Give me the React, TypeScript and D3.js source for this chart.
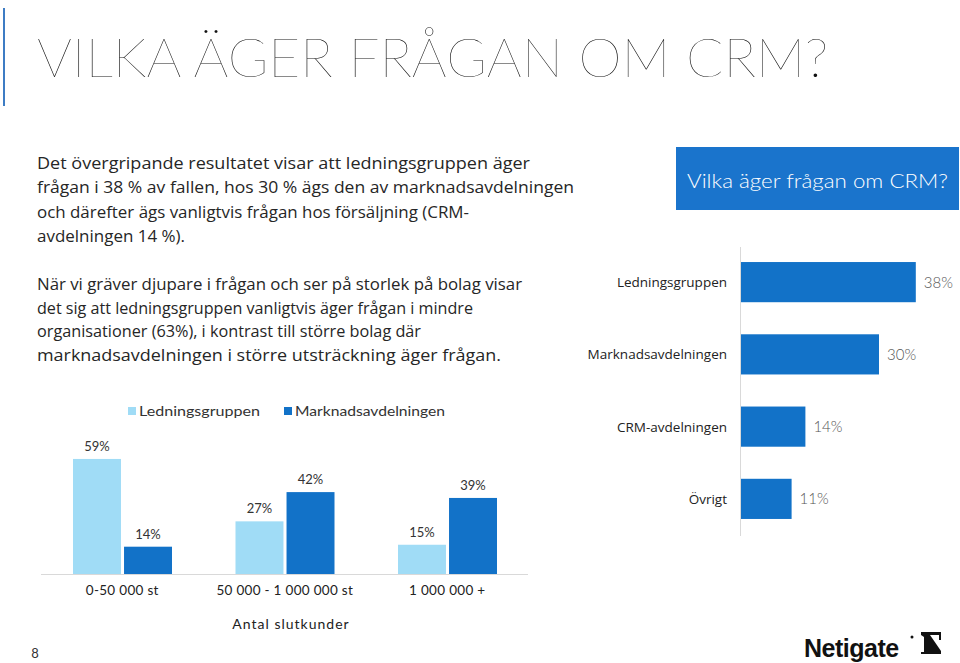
import React from "react";
import * as d3 from "d3";

const hCategories = ["Ledningsgruppen", "Marknadsavdelningen", "CRM-avdelningen", "Övrigt"];
const hValues = [38, 30, 14, 11];

const groups = ["0-50 000 st", "50 000 - 1 000 000 st", "1 000 000 +"];
const seriesNames = ["Ledningsgruppen", "Marknadsavdelningen"];
const ledningValues = [59, 27, 15];
const marknadValues = [14, 42, 39];

const titleText = "VILKA ÄGER FRÅGAN OM CRM?";
const para1 = [
  "Det övergripande resultatet visar att ledningsgruppen äger",
  "frågan i 38 % av fallen, hos 30 % ägs den av marknadsavdelningen",
  "och därefter ägs vanligtvis frågan hos försäljning (CRM-",
  "avdelningen 14 %).",
];
const para1Widths = [493, 537, 432, 148];
const para2 = [
  "När vi gräver djupare i frågan och ser på storlek på bolag visar",
  "det sig att ledningsgruppen vanligtvis äger frågan i mindre",
  "organisationer (63%), i kontrast till större bolag där",
  "marknadsavdelningen i större utsträckning äger frågan.",
];
const para2Widths = [485, 436, 384, 464];

const LIGHT = "#a0dcf6";
const DARK = "#1272c8";
const BOX = "#1a74cc";
const BODY_FONT = "'Open Sans', 'Noto Sans', sans-serif";
const GEO_FONT = "Lato, 'Noto Sans', sans-serif";

export default function App() {
  // horizontal bar chart
  const hx = d3.scaleLinear().domain([0, 100]).range([0, 460]);
  const hy = d3
    .scaleBand<string>()
    .domain(hCategories)
    .range([246, 535])
    .paddingInner(0.444)
    .paddingOuter(0.222);
  const axisX = 741;

  // grouped column chart
  const x0 = d3.scaleBand<string>().domain(groups).range([41, 528.5]);
  const x1 = d3.scaleBand<string>().domain(seriesNames).range([32, 131]).paddingInner(0.06);
  const y = d3.scaleLinear().domain([0, 100]).range([574, 379]);
  const colData = groups.map((g, i) => ({ g, vals: [ledningValues[i], marknadValues[i]] }));
  const colors = [LIGHT, DARK];
  const legendWidths = [121, 150];
  const legendX = [128, 284];

  return (
    <svg
      width={960}
      height={663}
      style={{ position: "absolute", left: 0, top: 0, background: "#fff" }}
    >
      <rect width={960} height={663} fill="#fff" />
      <line x1={4} x2={4} y1={8} y2={106} stroke="#3d7cc4" strokeWidth={2} />
      <text
        x={37}
        y={77}
        fontFamily={GEO_FONT}
        fontWeight={100}
        fontSize={54}
        fill="#111"
        textLength={791}
        lengthAdjust="spacingAndGlyphs"
      >
        {titleText}
      </text>

      {para1.map((t, i) => (
        <text
          key={"p1" + i}
          x={37}
          y={169 + i * 24.3}
          fontFamily={BODY_FONT}
          fontSize={16.5}
          fill="#262626"
          textLength={para1Widths[i]}
          lengthAdjust="spacingAndGlyphs"
        >
          {t}
        </text>
      ))}
      {para2.map((t, i) => (
        <text
          key={"p2" + i}
          x={37}
          y={290 + i * 23.5}
          fontFamily={BODY_FONT}
          fontSize={16}
          fill="#262626"
          textLength={para2Widths[i]}
          lengthAdjust="spacingAndGlyphs"
        >
          {t}
        </text>
      ))}

      {/* header box */}
      <rect x={676} y={147} width={283} height={63} fill={BOX} />
      <text
        x={687}
        y={188}
        fontFamily={GEO_FONT}
        fontWeight={300}
        fontSize={19}
        fill="#fff"
        textLength={261}
        lengthAdjust="spacingAndGlyphs"
      >
        Vilka äger frågan om CRM?
      </text>

      {/* horizontal bars */}
      <line x1={axisX - 0.5} x2={axisX - 0.5} y1={247} y2={536} stroke="#d9d9d9" strokeWidth={1} />
      {hCategories.map((c, i) => {
        const yy = hy(c)!;
        const w = hx(hValues[i]);
        const cy = yy + hy.bandwidth() / 2;
        return (
          <g key={c}>
            <rect x={axisX} y={yy} width={w} height={hy.bandwidth()} fill={DARK} />
            <text
              x={727}
              y={cy + 5}
              textAnchor="end"
              fontFamily={BODY_FONT}
              fontSize={13.5}
              fill="#222"
            >
              {c}
            </text>
            <text
              x={axisX + w + 8}
              y={cy + 5.5}
              fontFamily={GEO_FONT}
              fontWeight={300}
              fontSize={15}
              fill="#555"
            >
              {hValues[i]}%
            </text>
          </g>
        );
      })}

      {/* legend */}
      {seriesNames.map((s, j) => (
        <g key={s}>
          <rect x={legendX[j]} y={407} width={8} height={8} fill={colors[j]} />
          <text
            x={legendX[j] + 11}
            y={416}
            fontFamily={GEO_FONT}
            fontSize={13.5}
            fill="#333"
            textLength={legendWidths[j]}
            lengthAdjust="spacingAndGlyphs"
          >
            {s}
          </text>
        </g>
      ))}

      {/* columns */}
      {colData.map((d) => (
        <g key={d.g}>
          {d.vals.map((v, j) => {
            const bx = x0(d.g)! + x1(seriesNames[j])!;
            const top = y(v);
            return (
              <g key={j}>
                <rect x={bx} y={top} width={x1.bandwidth()} height={y(0) - top} fill={colors[j]} />
                <text
                  x={bx + x1.bandwidth() / 2}
                  y={top - 8}
                  textAnchor="middle"
                  fontFamily={GEO_FONT}
                  fontSize={13}
                  fill="#333"
                >
                  {v}%
                </text>
              </g>
            );
          })}
          <text
            x={x0(d.g)! + x0.bandwidth() / 2}
            y={595}
            textAnchor="middle"
            fontFamily={GEO_FONT}
            fontSize={13.5}
            fill="#222"
            letterSpacing={0.3}
          >
            {d.g}
          </text>
        </g>
      ))}
      <line x1={41} x2={528} y1={574.5} y2={574.5} stroke="#d9d9d9" strokeWidth={1} />
      <text
        x={291}
        y={629}
        textAnchor="middle"
        fontFamily={GEO_FONT}
        fontSize={14}
        fill="#222"
        letterSpacing={1}
      >
        Antal slutkunder
      </text>

      {/* page number */}
      <text x={35} y={658} textAnchor="middle" fontFamily={GEO_FONT} fontSize={13} fill="#333">
        8
      </text>

      {/* logo */}
      <text
        x={804}
        y={657}
        fontFamily="'Liberation Sans', Arial, sans-serif"
        fontWeight={700}
        fontSize={25}
        fill="#111"
        letterSpacing={-0.5}
      >
        Netigate
      </text>
      <circle cx={912} cy={637} r={1.5} fill="#111" />
      <path
        d="M921,632 L941,632 L941,640 L939,640 L939,635 L930,635 L941,651 L941,654 L921,654 L921,652 L924,652 L924,637 L921,635 Z"
        fill="#111"
      />
    </svg>
  );
}
